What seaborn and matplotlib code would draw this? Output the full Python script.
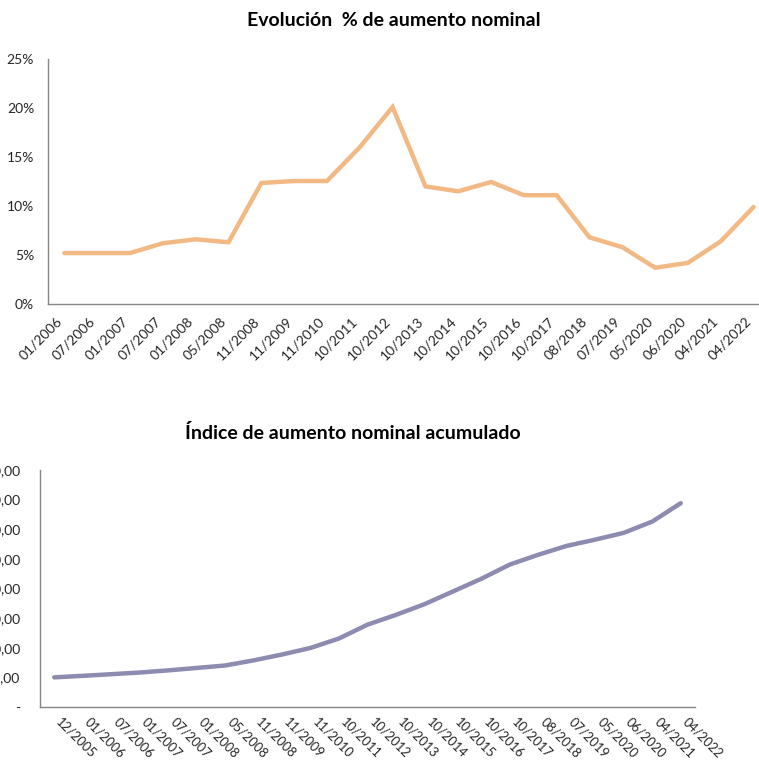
import numpy as np
import pandas as pd
import matplotlib
matplotlib.use("Agg")
import matplotlib.pyplot as plt
from matplotlib.ticker import FixedLocator, FuncFormatter
import seaborn as sns

# ---------------- data ----------------
top_labels = ["01/2006", "07/2006", "01/2007", "07/2007", "01/2008", "05/2008",
              "11/2008", "11/2009", "11/2010", "10/2011", "10/2012", "10/2013",
              "10/2014", "10/2015", "10/2016", "10/2017", "08/2018", "07/2019",
              "05/2020", "06/2020", "04/2021", "04/2022"]
top_values = [5.2, 5.2, 5.2, 6.2, 6.6, 6.3, 12.35, 12.55, 12.55, 16.0, 20.1, 12.0,
              11.5, 12.45, 11.1, 11.1, 6.8, 5.8, 3.7, 4.2, 6.4, 9.9]

bottom_labels = ["12/2005"] + top_labels
bottom_values = [100.0, 105.2, 110.7, 116.4, 123.6, 131.8, 140.1, 157.4, 177.2,
                 199.4, 231.3, 278.0, 311.0, 347.0, 390.0, 433.0, 481.0, 514.0,
                 544.0, 565.0, 588.0, 626.0, 688.0]

top_title = "Evolución  % de aumento nominal"
bottom_title = "Índice de aumento nominal acumulado"

# ---------------- style ----------------
sns.set_style("white")
plt.rcParams["font.family"] = ["Lato", "DejaVu Sans"]

AXIS_COLOR = "#868686"
TEXT_COLOR = "#262626"
ORANGE = "#F3B985"
PURPLE = "#8D8BAF"

fig = plt.figure(figsize=(7.59, 7.63), dpi=100)

W, H = 759.0, 763.0


def frac_axes(left_px, top_px, right_px, bottom_px):
    return fig.add_axes([left_px / W, 1 - bottom_px / H,
                         (right_px - left_px) / W, (bottom_px - top_px) / H])


def style_axes(ax, xsize=10, xpad=8):
    for s in ["top", "right"]:
        ax.spines[s].set_visible(False)
    for s in ["left", "bottom"]:
        ax.spines[s].set_color(AXIS_COLOR)
        ax.spines[s].set_linewidth(1.0)
    ax.tick_params(axis="y", which="major", length=4, width=1.0, color=AXIS_COLOR,
                   labelsize=10, labelcolor=TEXT_COLOR, pad=6, direction="out")
    ax.tick_params(axis="x", which="major", length=0, labelsize=xsize,
                   labelcolor=TEXT_COLOR, pad=xpad)
    ax.tick_params(axis="x", which="minor", length=4, width=1.0, color=AXIS_COLOR,
                   direction="out")
    ax.set_xlabel("")
    ax.set_ylabel("")
    ax.grid(False)


# ---------------- top chart ----------------
ax1 = frac_axes(48, 59, 770, 304)
df_top = pd.DataFrame({"pos": np.arange(len(top_labels)), "val": top_values})
sns.lineplot(data=df_top, x="pos", y="val", ax=ax1, color=ORANGE, linewidth=3.2,
             sort=False, solid_capstyle="round", solid_joinstyle="miter")
ax1.set_xlim(-0.5, len(top_labels) - 0.5)
ax1.set_ylim(0, 25)
ax1.yaxis.set_major_locator(FixedLocator([0, 5, 10, 15, 20, 25]))
ax1.yaxis.set_major_formatter(FuncFormatter(lambda v, p: f"{int(round(v))}%"))
ax1.set_xticks(np.arange(len(top_labels)))
ax1.set_xticklabels(top_labels, rotation=45, ha="right", rotation_mode="default")
ax1.xaxis.set_minor_locator(FixedLocator(np.arange(-0.5, len(top_labels), 1.0)))
style_axes(ax1)

fig.text(394 / W, 1 - 20 / H, top_title, ha="center", va="center",
         fontsize=14, fontweight="bold", color="#000000")

# ---------------- bottom chart ----------------
ax2 = frac_axes(40, 470, 695, 707)
df_bot = pd.DataFrame({"pos": np.arange(len(bottom_labels)), "val": bottom_values})
sns.lineplot(data=df_bot, x="pos", y="val", ax=ax2, color=PURPLE, linewidth=3.2,
             sort=False, solid_capstyle="round", solid_joinstyle="round")
ax2.set_xlim(-0.5, len(bottom_labels) - 0.5)
ax2.set_ylim(0, 800)
ax2.yaxis.set_major_locator(FixedLocator(np.arange(0, 801, 100)))


def idx_fmt(v, p):
    if abs(v) < 1e-9:
        return "-"
    return f"{v:.2f}".replace(".", ",")


ax2.yaxis.set_major_formatter(FuncFormatter(idx_fmt))
ax2.set_xticks(np.arange(len(bottom_labels)))
ax2.set_xticklabels(bottom_labels, rotation=-45, ha="left", rotation_mode="default")
ax2.xaxis.set_minor_locator(FixedLocator(np.arange(-0.5, len(bottom_labels), 1.0)))
style_axes(ax2, xsize=9.3, xpad=6)
ax2.tick_params(axis="y", pad=10)

fig.text(353 / W, 1 - 433 / H, bottom_title, ha="center", va="center",
         fontsize=14, fontweight="bold", color="#000000")

fig.savefig("out.png", dpi=100)
